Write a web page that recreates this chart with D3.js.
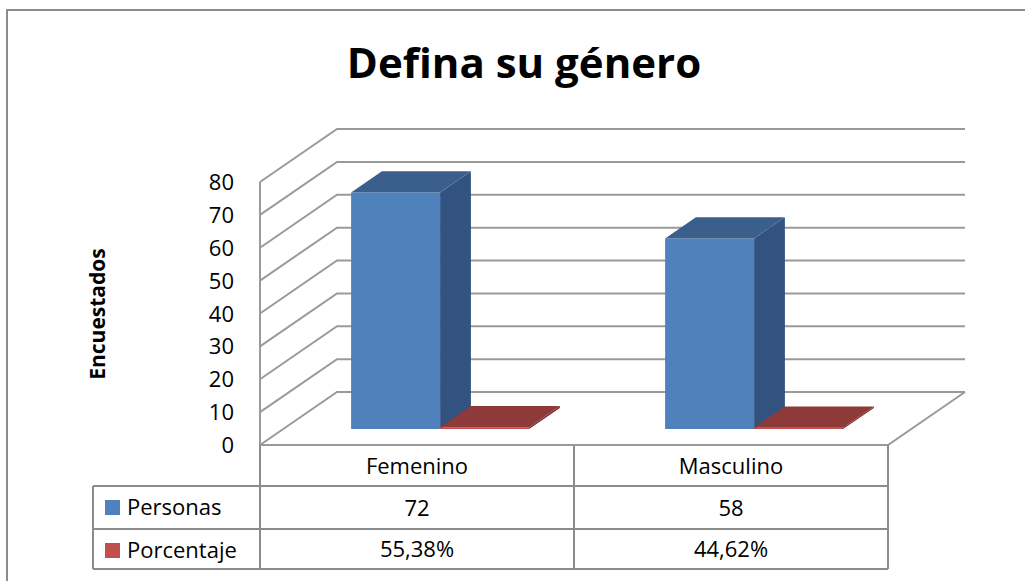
<!DOCTYPE html>
<html>
<head>
<meta charset="utf-8">
<script src="https://cdn.jsdelivr.net/npm/d3@7"></script>
<style>
  body { margin: 0; background: #fff; }
  text { font-family: "Open Sans", "Noto Sans", sans-serif; fill: #000; }
</style>
</head>
<body>
<svg width="1025" height="581"></svg>
<script>
// data
const categories = ["Femenino", "Masculino"];
const series = ["Personas", "Porcentaje"];
const personas = [72, 58];
const porcentaje = [0.5538, 0.4462];
const porcentajeLabels = ["55,38%", "44,62%"];
const yTicks = [0, 10, 20, 30, 40, 50, 60, 70, 80];

const svg = d3.select("svg");

// colors per series: front, side, top
const colors = {
  Personas: { front: "#4f81bd", side: "#32527f", top: "#3b5f8c" },
  Porcentaje: { front: "#c0504d", side: "#7d2f2d", top: "#8e3a39" }
};
const gridColor = "#9a9a9a";

// layout of the 3d box
const left = 260, right = 888, floorY = 445, topY = 182;
const depthX = 77, depthY = -53;   // full depth offset
const d0 = 0.3, d1 = 0.7;          // bar depth range

const y = d3.scaleLinear().domain([0, 80]).range([floorY, topY]);
const x0 = d3.scaleBand().domain(categories).range([left, right]);
const x1 = d3.scaleBand().domain(series).range([0, x0.bandwidth()])
  .paddingInner(0).paddingOuter(0.764);

// project (x, value, depth) to screen
function P(x, v, d) {
  return [x + d * depthX, y(v) + d * depthY];
}

// outer frame
svg.append("path")
  .attr("d", "M7,581 V10 H1025")
  .attr("fill", "none").attr("stroke", "#8c8c8c").attr("stroke-width", 2);

// title
svg.append("text")
  .attr("x", 524).attr("y", 78)
  .attr("text-anchor", "middle")
  .attr("font-size", 42).attr("font-weight", "bold")
  .text("Defina su género");

// walls
const grid = svg.append("g").attr("stroke", gridColor).attr("stroke-width", 2).attr("fill", "none");
yTicks.forEach(v => {
  const a = P(left, v, 0), b = P(left, v, 1), c = P(right, v, 1);
  grid.append("path").attr("d", d3.line()([a, b, c]));
});
grid.append("line")
  .attr("x1", left).attr("x2", left)
  .attr("y1", y(80)).attr("y2", y(0));
// floor right edge + front edge
grid.append("path").attr("d", d3.line()([P(left, 0, 0), P(right, 0, 0), P(right, 0, 1)]));

// y axis labels
svg.append("g").selectAll("text")
  .data(yTicks).enter().append("text")
  .attr("x", 234).attr("y", d => y(d) + 8)
  .attr("text-anchor", "end")
  .attr("font-size", 22)
  .text(d => d);

// axis title
svg.append("text")
  .attr("transform", "translate(105,314) rotate(-90)")
  .attr("text-anchor", "middle")
  .attr("font-size", 21).attr("font-weight", "bold")
  .text("Encuestados");

// bars
const bars = [];
categories.forEach((c, i) => {
  bars.push({ cat: c, s: "Personas", v: personas[i] });
  bars.push({ cat: c, s: "Porcentaje", v: porcentaje[i] });
});

const barG = svg.append("g");
bars.forEach(b => {
  const xa = x0(b.cat) + x1(b.s), xb = xa + x1.bandwidth();
  const col = colors[b.s];
  const g = barG.append("g");
  // front
  g.append("path").attr("fill", col.front)
    .attr("d", d3.line()([P(xa, 0, d0), P(xb, 0, d0), P(xb, b.v, d0), P(xa, b.v, d0)]) + "Z");
  // side
  g.append("path").attr("fill", col.side)
    .attr("d", d3.line()([P(xb, 0, d0), P(xb, 0, d1), P(xb, b.v, d1), P(xb, b.v, d0)]) + "Z");
  // top
  g.append("path").attr("fill", col.top)
    .attr("d", d3.line()([P(xa, b.v, d0), P(xb, b.v, d0), P(xb, b.v, d1), P(xa, b.v, d1)]) + "Z");
});

// data table
const tableLeft = 93;
const rows = [445, 486, 529, 569];
const tbl = svg.append("g").attr("stroke", "#8c8c8c").attr("stroke-width", 2).attr("fill", "none");
// horizontal lines
[1, 2, 3].forEach(r => {
  tbl.append("line").attr("x1", tableLeft).attr("x2", right).attr("y1", rows[r]).attr("y2", rows[r]);
});
// verticals
tbl.append("line").attr("x1", tableLeft).attr("x2", tableLeft).attr("y1", rows[1]).attr("y2", rows[3]);
[left, x0("Masculino"), right].forEach(xv => {
  tbl.append("line").attr("x1", xv).attr("x2", xv).attr("y1", rows[0]).attr("y2", rows[3]);
});

const cx = c => x0(c) + x0.bandwidth() / 2;
const tableText = svg.append("g").attr("font-size", 22).attr("text-anchor", "middle");
categories.forEach((c, i) => {
  tableText.append("text").attr("x", cx(c)).attr("y", 474).text(c);
  tableText.append("text").attr("x", cx(c)).attr("y", 516).text(personas[i]);
  tableText.append("text").attr("x", cx(c)).attr("y", 557).text(porcentajeLabels[i]);
});

// legend keys in table
series.forEach((s, i) => {
  const ry = rows[i + 1];
  svg.append("rect").attr("x", 105).attr("y", ry + 14).attr("width", 15).attr("height", 15)
    .attr("fill", colors[s].front);
  svg.append("text").attr("x", 127).attr("y", ry + 29).attr("font-size", 22).text(s);
});
</script>
</body>
</html>
